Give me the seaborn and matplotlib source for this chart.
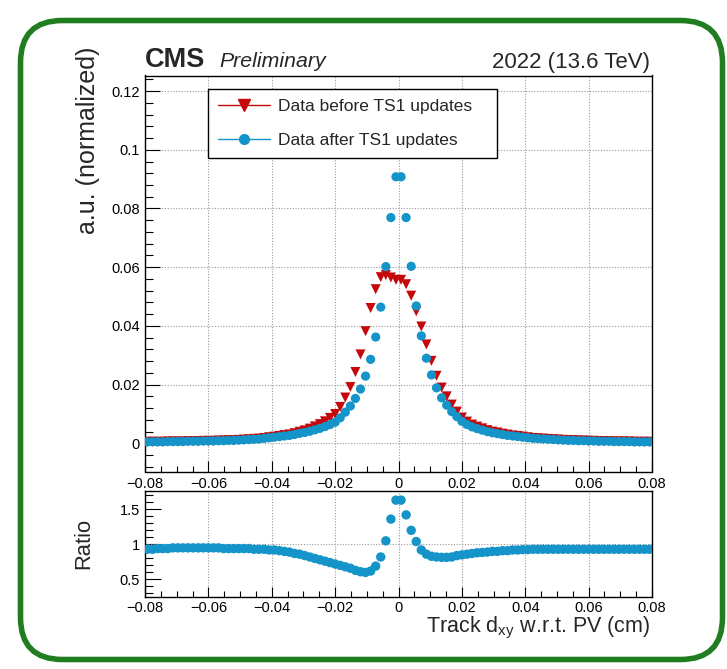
import numpy as np
import pandas as pd
import matplotlib
matplotlib.use("Agg")
import matplotlib.pyplot as plt
import seaborn as sns
from matplotlib.lines import Line2D
from matplotlib.patches import FancyBboxPatch
from matplotlib.ticker import MultipleLocator, FixedLocator, FuncFormatter

# ---------------- data ----------------
bin_low, bin_high, n_bins = -0.08, 0.08, 100

before_ts1 = [
    0.00054, 0.00054, 0.00053, 0.00053, 0.00064, 0.00063, 0.00063, 0.00063, 0.00074, 0.00074,
    0.00074, 0.00084, 0.00084, 0.00084, 0.00095, 0.00096, 0.00106, 0.00106, 0.00117, 0.00128,
    0.00138, 0.00151, 0.00161, 0.00183, 0.00207, 0.00228, 0.00253, 0.00278, 0.00303, 0.00345,
    0.00395, 0.00440, 0.00500, 0.00575, 0.00654, 0.00750, 0.00865, 0.01000, 0.01240, 0.01560,
    0.01920, 0.02430, 0.03030, 0.03820, 0.04610, 0.05250, 0.05660, 0.05730, 0.05650, 0.05570,
    0.05570, 0.05420, 0.05030, 0.04500, 0.03980, 0.03370, 0.02810, 0.02300, 0.01900, 0.01600,
    0.01320, 0.01080, 0.00880, 0.00740, 0.00640, 0.00570, 0.00510, 0.00450, 0.00400, 0.00370,
    0.00330, 0.00300, 0.00270, 0.00250, 0.00230, 0.00205, 0.00183, 0.00172, 0.00161, 0.00151,
    0.00140, 0.00129, 0.00118, 0.00108, 0.00108, 0.00097, 0.00097, 0.00086, 0.00086, 0.00075,
    0.00075, 0.00075, 0.00065, 0.00065, 0.00065, 0.00065, 0.00054, 0.00054, 0.00054, 0.00054,
]

after_ts1 = [
    0.0005, 0.0005, 0.0005, 0.0005, 0.0006, 0.0006, 0.0006, 0.0006, 0.0007, 0.0007,
    0.0007, 0.0008, 0.0008, 0.0008, 0.0009, 0.0009, 0.0010, 0.0010, 0.0011, 0.0012,
    0.0013, 0.0014, 0.0015, 0.0017, 0.0019, 0.0021, 0.0023, 0.0025, 0.0027, 0.0030,
    0.0034, 0.0037, 0.0041, 0.0046, 0.0051, 0.0057, 0.0064, 0.0072, 0.0087, 0.0106,
    0.0127, 0.0153, 0.0185, 0.0229, 0.0286, 0.0362, 0.0464, 0.0602, 0.0769, 0.0908,
    0.0908, 0.0769, 0.0603, 0.0468, 0.0366, 0.0290, 0.0233, 0.0189, 0.0155, 0.0130,
    0.0108, 0.0091, 0.0075, 0.0064, 0.0056, 0.0050, 0.0045, 0.0040, 0.0036, 0.0033,
    0.0030, 0.0027, 0.0025, 0.0023, 0.0021, 0.0019, 0.0017, 0.0016, 0.0015, 0.0014,
    0.0013, 0.0012, 0.0011, 0.0010, 0.0010, 0.0009, 0.0009, 0.0008, 0.0008, 0.0007,
    0.0007, 0.0007, 0.0006, 0.0006, 0.0006, 0.0006, 0.0005, 0.0005, 0.0005, 0.0005,
]

ratio_vals = [
    0.93, 0.93, 0.94, 0.94, 0.94, 0.95, 0.95, 0.95, 0.95, 0.95,
    0.95, 0.95, 0.95, 0.95, 0.95, 0.94, 0.94, 0.94, 0.94, 0.94,
    0.94, 0.93, 0.93, 0.93, 0.92, 0.92, 0.91, 0.90, 0.89, 0.87,
    0.86, 0.84, 0.82, 0.80, 0.78, 0.76, 0.74, 0.72, 0.70, 0.68,
    0.66, 0.63, 0.61, 0.60, 0.62, 0.69, 0.82, 1.05, 1.36, 1.63,
    1.63, 1.42, 1.20, 1.04, 0.92, 0.86, 0.83, 0.82, 0.815, 0.815,
    0.82, 0.84, 0.85, 0.86, 0.87, 0.88, 0.885, 0.89, 0.90, 0.90,
    0.91, 0.91, 0.92, 0.92, 0.925, 0.925, 0.93, 0.93, 0.93, 0.93,
    0.93, 0.93, 0.93, 0.93, 0.93, 0.93, 0.93, 0.93, 0.93, 0.93,
    0.93, 0.93, 0.93, 0.93, 0.93, 0.93, 0.93, 0.93, 0.93, 0.93,
]

series_labels = ["Data before TS1 updates", "Data after TS1 updates"]
x_ticks = [-0.08, -0.06, -0.04, -0.02, 0, 0.02, 0.04, 0.06, 0.08]
y_ticks = [0, 0.02, 0.04, 0.06, 0.08, 0.1, 0.12]
ratio_ticks = [0.5, 1, 1.5]

# ---------------- style ----------------
RED = "#c4080b"
BLUE = "#1494c8"
GREEN = "#207d20"

sns.set_theme(style="white")
plt.rcParams["font.family"] = ["Liberation Sans", "DejaVu Sans"]
plt.rcParams["mathtext.fontset"] = "custom"
plt.rcParams["mathtext.rm"] = "Liberation Sans"
plt.rcParams["mathtext.it"] = "Liberation Sans:italic"
plt.rcParams["mathtext.bf"] = "Liberation Sans:bold"
plt.rcParams["axes.unicode_minus"] = True

edges = np.linspace(bin_low, bin_high, n_bins + 1)
centers = 0.5 * (edges[:-1] + edges[1:])
df = pd.DataFrame({"x": centers, "before": before_ts1, "after": after_ts1, "ratio": ratio_vals})

W, H = 727, 669
fig = plt.figure(figsize=(W / 100, H / 100), dpi=100)
fig.patch.set_facecolor("white")

# green rounded frame
bg = fig.add_axes([0, 0, 1, 1], zorder=-5)
bg.set_xlim(0, W)
bg.set_ylim(H, 0)
bg.axis("off")
bg.add_patch(FancyBboxPatch((20.5, 20.5), 702, 639,
                            boxstyle="round,pad=0,rounding_size=42",
                            fc="none", ec=GREEN, lw=4.0))

ax = fig.add_axes([145 / W, 1 - 471.5 / H, 507 / W, 396 / H])
rax = fig.add_axes([145 / W, 1 - 597 / H, 507 / W, 106 / H])


def fmt(v, p):
    if abs(v) < 1e-12:
        return "0"
    return f"{v:g}".replace("-", "\u2212")


# main panel
sns.scatterplot(data=df, x="x", y="before", ax=ax, marker="v", s=52, color=RED,
                linewidth=0, edgecolor="none", legend=False, zorder=3)
sns.scatterplot(data=df, x="x", y="after", ax=ax, marker="o", s=44, color=BLUE,
                linewidth=0, edgecolor="none", legend=False, zorder=4)
ax.set_xlim(bin_low, bin_high)
ax.set_ylim(-0.0096, 0.1253)
ax.xaxis.set_major_locator(FixedLocator(x_ticks))
ax.xaxis.set_minor_locator(MultipleLocator(0.005))
ax.yaxis.set_major_locator(FixedLocator(y_ticks))
ax.yaxis.set_minor_locator(MultipleLocator(0.004))
ax.xaxis.set_major_formatter(FuncFormatter(fmt))
ax.yaxis.set_major_formatter(FuncFormatter(fmt))
ax.set_xlabel("")
ax.set_ylabel("")
ax.set_axisbelow(True)
ax.grid(True, which="major", ls=(0, (1, 1.5)), color="#9a9a9a", lw=0.8)

# ratio panel
sns.scatterplot(data=df, x="x", y="ratio", ax=rax, marker="o", s=46, color=BLUE,
                linewidth=0, edgecolor="none", legend=False, zorder=4)
rax.set_xlim(bin_low, bin_high)
rax.set_ylim(0.25, 1.76)
rax.xaxis.set_major_locator(FixedLocator(x_ticks))
rax.xaxis.set_minor_locator(MultipleLocator(0.005))
rax.yaxis.set_major_locator(FixedLocator(ratio_ticks))
rax.yaxis.set_minor_locator(MultipleLocator(0.1))
rax.xaxis.set_major_formatter(FuncFormatter(fmt))
rax.yaxis.set_major_formatter(FuncFormatter(fmt))
rax.set_xlabel("")
rax.set_ylabel("")
rax.set_axisbelow(True)
rax.grid(True, axis="x", which="major", ls=(0, (1, 1.5)), color="#9a9a9a", lw=0.8)
rax.axhline(1.0, ls=(0, (1, 1.5)), color="#9a9a9a", lw=0.8, zorder=1)

for a, ymaj, ymin, xmaj, xmin, xpad in [(ax, 10.8, 5.8, 7.9, 4.0, 4.0),
                                         (rax, 11.5, 5.9, 7.0, 4.0, 2.8)]:
    for s in a.spines.values():
        s.set_color("black")
        s.set_linewidth(1.0)
    a.tick_params(axis="both", which="both", direction="in", top=False, right=False,
                  bottom=True, left=True, colors="black", width=0.8, labelsize=10.5)
    a.tick_params(axis="y", which="major", length=ymaj, pad=3.6)
    a.tick_params(axis="y", which="minor", length=ymin)
    a.tick_params(axis="x", which="major", length=xmaj, pad=xpad)
    a.tick_params(axis="x", which="minor", length=xmin)

# legend
handles = [Line2D([], [], color=RED, marker="v", ms=8, lw=1.0),
           Line2D([], [], color=BLUE, marker="o", ms=7, lw=1.0)]
leg = ax.legend(handles, series_labels, loc="upper left",
                bbox_to_anchor=(0.1243, 0.796, 0.570, 0.171), mode="expand",
                borderaxespad=0, frameon=True, fancybox=False, edgecolor="black",
                framealpha=1, fontsize=12.5, handlelength=3.0, handletextpad=0.45,
                labelspacing=1.08, borderpad=0.58, numpoints=1)
leg.get_frame().set_linewidth(1.0)
leg.set_zorder(10)

# texts
fig.text(145 / W, 1 - 67 / H, "CMS", fontsize=19.5, fontweight="bold", ha="left", va="baseline")
fig.text(219 / W, 1 - 67 / H, "Preliminary", fontsize=15.3, style="italic", ha="left", va="baseline")
fig.text(650 / W, 1 - 68 / H, "2022 (13.6 TeV)", fontsize=16, ha="right", va="baseline")
fig.text(88.5 / W, 1 - 47 / H, "a.u. (normalized)", rotation=90, fontsize=18, ha="center", va="top")
fig.text(84 / W, 1 - 543 / H, "Ratio", rotation=90, fontsize=15.8, ha="center", va="center")
fig.text(650 / W, 1 - 632 / H, r"Track d$_{\mathregular{xy}}$ w.r.t. PV (cm)", fontsize=15.5,
         ha="right", va="baseline")

fig.savefig("out.png", dpi=100, facecolor="white")
